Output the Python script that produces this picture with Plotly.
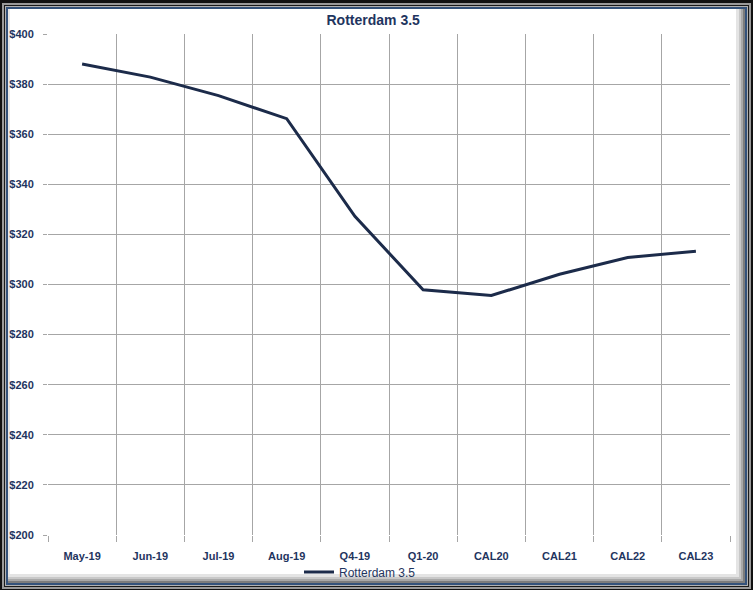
import plotly.graph_objects as go

# Forward curve for Rotterdam 3.5 fuel oil ($/mt)
periods = ["May-19", "Jun-19", "Jul-19", "Aug-19", "Q4-19",
           "Q1-20", "CAL20", "CAL21", "CAL22", "CAL23"]
prices = [388.0, 382.8, 375.4, 366.2, 327.2, 297.9, 295.6, 304.1, 310.8, 313.3]
y_ticks = [200, 220, 240, 260, 280, 300, 320, 340, 360, 380, 400]
y_labels = [f"${v}" for v in y_ticks]

W, H = 753, 590
L, R, T, B = 48, 730, 34, 535          # plot area in pixels

def px(x):
    return (x - L) / (R - L)

def py(y):
    return (B - y) / (B - T)

NAVY = "#1c2b4a"
TEXT = "#1f3560"
FONT = "Liberation Sans Narrow, Arial Narrow, Liberation Sans, sans-serif"

xs = list(range(len(periods)))

fig = go.Figure()
fig.add_trace(go.Scatter(
    x=xs, y=prices, mode="lines", name="Rotterdam 3.5",
    line=dict(color=NAVY, width=3),
))

# Frame: black outer edge, grey bevel, blue rule, shaded inner panel
frame = [
    (0, 0, 753, 590, "#111111"),
    (2, 3, 751, 589, "#9a9a9a"),
    (4, 5, 749, 587, "#1a1a1a"),
    (5, 6, 748, 586, "#b0b0b0"),
    (6, 7, 747, 585, "#34527a"),
    (8, 9, 745, 583, "#7c7c7c"),
    (8, 9, 743, 581, "#a8a8a8"),
    (8, 9, 741, 579, "#c8c8c8"),
    (8, 9, 739, 577, "#e4e4e4"),
    (8, 9, 736, 574, "#ffffff"),
]
shapes = []
for x0, y0, x1, y1, c in frame:
    shapes.append(dict(type="rect", xref="paper", yref="paper",
                       x0=px(x0), x1=px(x1), y0=py(y1), y1=py(y0),
                       fillcolor=c, line=dict(width=0), layer="below"))
# light left/top inner edge
shapes.append(dict(type="rect", xref="paper", yref="paper",
                   x0=px(8), x1=px(10), y0=py(574), y1=py(9),
                   fillcolor="#e8e8e8", line=dict(width=0), layer="below"))

fig.update_layout(
    width=W, height=H,
    margin=dict(l=L, r=W - R, t=T, b=H - B, autoexpand=False),
    paper_bgcolor="#ffffff",
    plot_bgcolor="rgba(0,0,0,0)",
    shapes=shapes,
    title=dict(text="<b>Rotterdam 3.5</b>", x=px(386), xanchor="center",
               y=1 - 20 / H, yanchor="middle",
               font=dict(family=FONT, size=14, color=TEXT)),
    font=dict(family=FONT, color=TEXT),
    showlegend=True,
    legend=dict(orientation="h", xref="container", yref="container",
                x=360 / W, xanchor="center",
                y=1 - 572 / H, yanchor="middle",
                font=dict(family=FONT, size=12, color=TEXT),
                bgcolor="rgba(0,0,0,0)", itemwidth=30),
    xaxis=dict(
        range=[-0.5, len(periods) - 0.5],
        tickmode="array", tickvals=xs,
        ticktext=[f"<b>{p}</b>" for p in periods],
        ticks="outside", ticklen=11, tickcolor="rgba(0,0,0,0)",
        showgrid=False, zeroline=False,
        tickfont=dict(family=FONT, size=11, color=TEXT),
        minor=dict(tickmode="array",
                   tickvals=[i - 0.5 for i in range(len(periods) + 1)],
                   showgrid=True, gridcolor="#a6a6a6", gridwidth=1,
                   ticks="outside", ticklen=6, tickcolor="#a6a6a6"),
        showline=False, fixedrange=True,
    ),
    yaxis=dict(
        range=[200, 400], tickmode="array", tickvals=y_ticks,
        ticktext=[f"<b>{t}</b>" for t in y_labels],
        showgrid=True, gridcolor="#a6a6a6", gridwidth=1,
        ticks="outside", ticklen=4, tickcolor="#a6a6a6",
        ticklabelstandoff=7,
        zeroline=False, showline=False,
        tickfont=dict(family=FONT, size=11, color=TEXT),
        fixedrange=True,
    ),
)

fig.write_html("out.html")
